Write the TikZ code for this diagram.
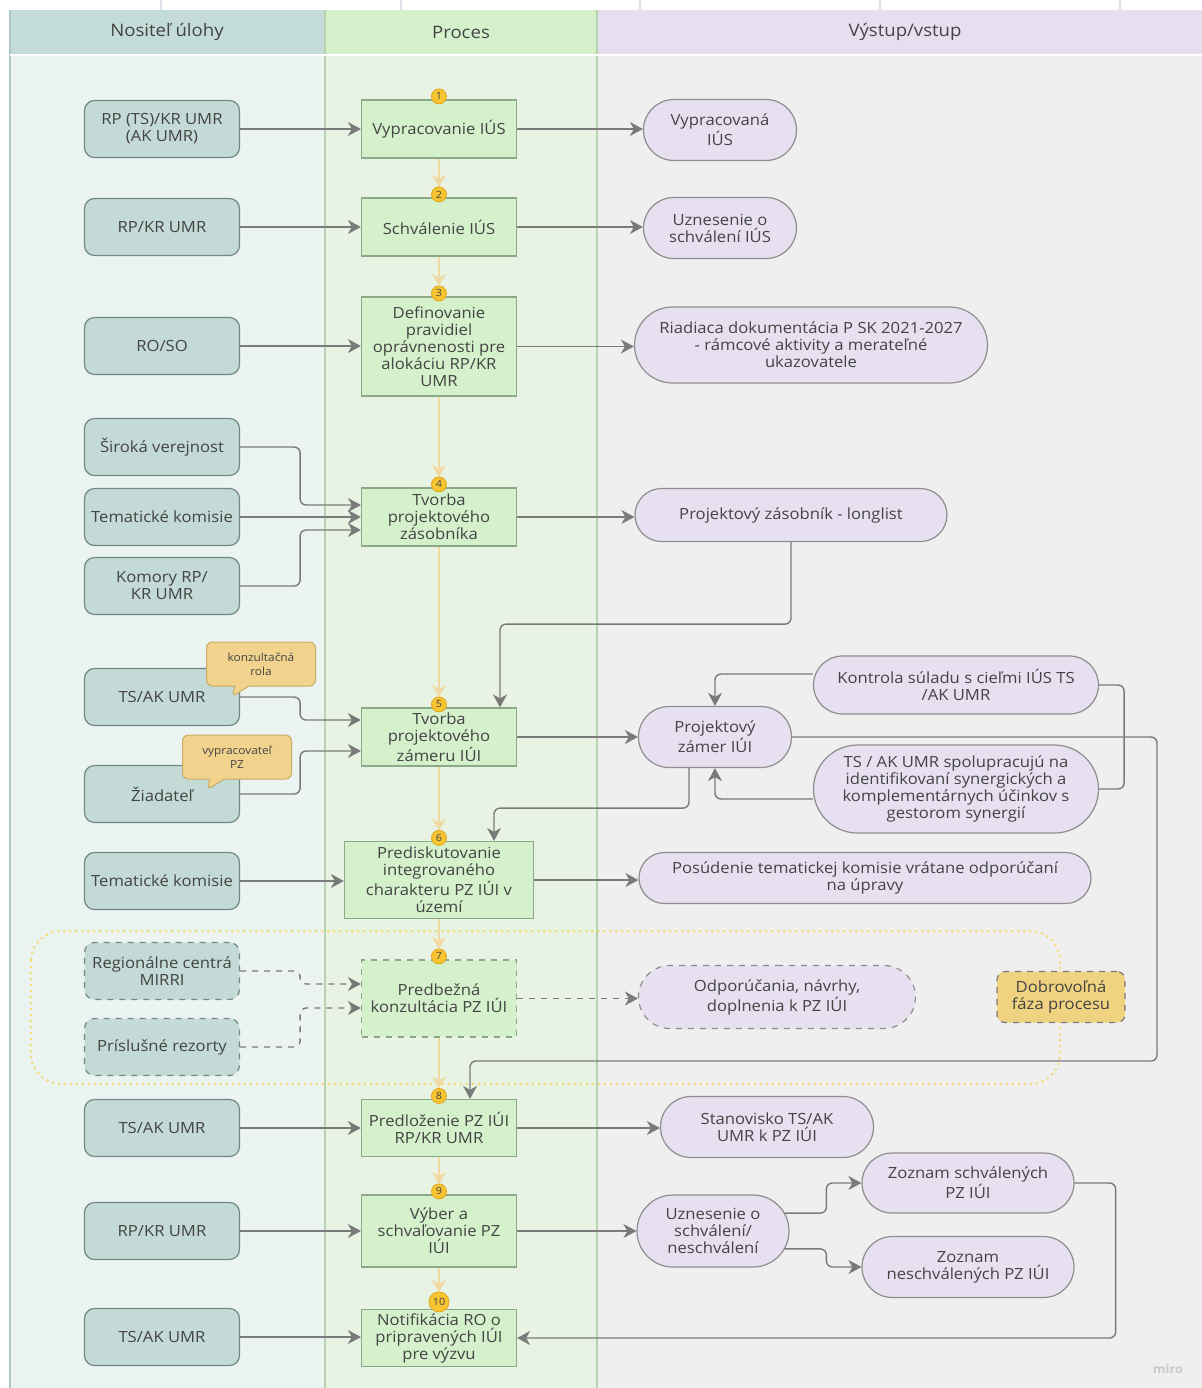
\documentclass[tikz,border=0pt]{standalone}
\usepackage{fontspec}
\setmainfont[FakeStretch=1.08]{Open Sans}
\usetikzlibrary{arrows.meta,shapes.misc,shapes.callouts}
\definecolor{lhead}{HTML}{C4DCD7}
\definecolor{lbody}{HTML}{EBF4F1}
\definecolor{mhead}{HTML}{D4F1CC}
\definecolor{mbody}{HTML}{E8F3E3}
\definecolor{rhead}{HTML}{E6DFF0}
\definecolor{rbody}{HTML}{EFEFEF}
\definecolor{lfill}{HTML}{C3DAD6}
\definecolor{lbord}{HTML}{728886}
\definecolor{pfill}{HTML}{D5F1CC}
\definecolor{pbord}{HTML}{8BA888}
\definecolor{ofill}{HTML}{E7E0F0}
\definecolor{obord}{HTML}{8E8E8E}
\definecolor{cgray}{HTML}{7A7A7A}
\definecolor{flowc}{HTML}{F0D9A2}
\definecolor{bfill}{HTML}{F7C531}
\definecolor{bbord}{HTML}{E2A61A}
\definecolor{callf}{HTML}{F1D38E}
\definecolor{callb}{HTML}{C9AA66}
\definecolor{dobf}{HTML}{F0D380}
\definecolor{regc}{HTML}{F2DC7C}
\definecolor{txt}{HTML}{444444}
\definecolor{laneA}{HTML}{B7D3AE}
\definecolor{laneL}{HTML}{ADC9C3}
\definecolor{tickc}{HTML}{DCE2EA}
\definecolor{wm}{HTML}{C9C9C9}
\newcommand\fsA{\fontsize{7.7}{8.5}\selectfont}
\newcommand\fsH{\fontsize{8.6}{9.5}\selectfont}
\newcommand\fsS{\fontsize{5.5}{7}\selectfont}
\newcommand\fsB{\fontsize{5}{5}\selectfont}
\begin{document}
\begin{tikzpicture}[x=0.5pt,y=-0.5pt,
  every node/.style={text=txt, font=\fsA, align=center, inner sep=1pt},
  hdr/.style={font=\fsH},
  lnode/.style={draw=lbord, fill=lfill, rounded corners=5pt, minimum width=77.5pt, minimum height=28.5pt, line width=0.6pt},
  pnode/.style={draw=pbord, fill=pfill, minimum width=77.5pt, line width=0.6pt},
  onode/.style={draw=obord, fill=ofill, rounded rectangle, line width=0.6pt},
  conn/.style={draw=cgray, line width=0.7pt, rounded corners=3pt, -{Stealth[length=6.5pt,width=7pt,inset=2pt]}},
  plain/.style={draw=cgray, line width=0.7pt, rounded corners=3pt},
  flow/.style={draw=flowc, line width=0.7pt, -{Stealth[length=6pt,width=7pt,inset=2pt]}},
  badge/.style={circle, fill=bfill, draw=bbord, line width=0.4pt, minimum size=7.5pt, inner sep=0pt, font=\fsB},
  callout/.style={rectangle callout, fill=callf, draw=callb, line width=0.5pt, rounded corners=3pt, minimum width=54.5pt, minimum height=22pt, font=\fsS, inner sep=1pt}
]
\useasboundingbox (0,0) rectangle (1202,1388);
\fill[white] (0,0) rectangle (1202,1388);
% ruler ticks
\foreach \tx in {161,401,640,880,1120} \draw[tickc, line width=0.6pt] (\tx,0) -- (\tx,10);
% lanes
\fill[lhead] (10,10) rectangle (325,55);
\fill[mhead] (325,10) rectangle (597,55);
\fill[rhead] (597,10) rectangle (1202,55);
\fill[lbody] (10,55) rectangle (325,1388);
\fill[mbody] (325,55) rectangle (597,1388);
\fill[rbody] (597,55) rectangle (1202,1388);
\draw[laneL, line width=0.6pt] (10,10) -- (10,1388);
\draw[laneA, line width=0.8pt] (325,10) -- (325,1388);
\draw[laneA, line width=0.8pt] (597,10) -- (597,1388);
\draw[white, line width=0.8pt] (10,55) -- (1202,55);
\node[hdr] (h1) at (167,32) {Nositeľ úlohy};
\node[hdr] (h2) at (461,32) {Proces};
\node[hdr] (h3) at (905,32) {Výstup/vstup};
% voluntary region
\draw[regc, line width=1.5pt, line cap=round, dash pattern=on 0pt off 3pt, rounded corners=15pt] (31,931) rectangle (1060,1084);

% left nodes
\node[lnode] (l1) at (162,129) {RP (TS)/KR UMR\\(AK UMR)};
\node[lnode] (l2) at (162,227) {RP/KR UMR};
\node[lnode] (l3) at (162,346) {RO/SO};
\node[lnode] (l4) at (162,447) {Široká verejnost};
\node[lnode] (l5) at (162,517) {Tematické komisie};
\node[lnode] (l6) at (162,586) {Komory RP/\\KR UMR};
\node[lnode] (l7) at (162,697) {TS/AK UMR};
\node[lnode] (l8) at (162,794) {Žiadateľ};
\node[lnode] (l9) at (162,881) {Tematické komisie};
\node[lnode, dashed] (l10) at (162,971) {Regionálne centrá\\MIRRI};
\node[lnode, dashed] (l11) at (162,1047) {Príslušné rezorty};
\node[lnode] (l12) at (162,1128) {TS/AK UMR};
\node[lnode] (l13) at (162,1231) {RP/KR UMR};
\node[lnode] (l14) at (162,1337) {TS/AK UMR};

% callouts
\node[callout, callout absolute pointer={(232,697)}] (c1) at (261,664) {konzultačná\\rola};
\node[callout, callout absolute pointer={(207,790)}] (c2) at (237,757) {vypracovateľ\\PZ};

% process nodes
\node[pnode, minimum height=29pt] (p1) at (439,129) {Vypracovanie IÚS};
\node[pnode, minimum height=29pt] (p2) at (439,227) {Schválenie IÚS};
\node[pnode, minimum height=49.5pt] (p3) at (439,346.5) {Definovanie\\pravidiel\\oprávnenosti pre\\alokáciu RP/KR\\UMR};
\node[pnode, minimum height=29pt] (p4) at (439,517) {Tvorba\\projektového\\zásobníka};
\node[pnode, minimum height=29pt] (p5) at (439,737) {Tvorba\\projektového\\zámeru IÚI};
\node[pnode, minimum height=38.5pt, minimum width=94.5pt] (p6) at (439,880) {Prediskutovanie\\integrovaného\\charakteru PZ IÚI v\\území};
\node[pnode, dashed, minimum height=38.5pt] (p7) at (439,998.5) {Predbežná\\konzultácia PZ IÚI};
\node[pnode, minimum height=28.5pt] (p8) at (439,1128) {Predloženie PZ IÚI\\RP/KR UMR};
\node[pnode, minimum height=36pt] (p9) at (439,1231) {Výber a\\schvaľovanie PZ\\IÚI};
\node[pnode, minimum height=28.5pt] (p10) at (439,1338) {Notifikácia RO o\\pripravených IÚI\\pre výzvu};

% output nodes
\node[onode, minimum width=78.5pt, minimum height=30.5pt] (o1) at (720,130) {Vypracovaná\\IÚS};
\node[onode, minimum width=78.5pt, minimum height=30.5pt] (o2) at (720,228) {Uznesenie o\\schválení IÚS};
\node[onode, minimum width=178.5pt, minimum height=38pt] (o3) at (811,345) {Riadiaca dokumentácia P SK 2021-2027\\- rámcové aktivity a merateľné\\ukazovatele};
\node[onode, minimum width=158pt, minimum height=26.5pt] (o4) at (791,515) {Projektový zásobník - longlist};
\node[onode, minimum width=144.5pt, minimum height=29pt] (o5) at (956,685) {Kontrola súladu s cieľmi IÚS TS\\/AK UMR};
\node[onode, minimum width=78.5pt, minimum height=30.5pt] (o6) at (715,737) {Projektový\\zámer IÚI};
\node[onode, minimum width=144.5pt, minimum height=44pt] (o7) at (956,789) {TS / AK UMR spolupracujú na\\identifikovaní synergických a\\komplementárnych účinkov s\\gestorom synergií};
\node[onode, minimum width=228pt, minimum height=25.5pt] (o8) at (865,878) {Posúdenie tematickej komisie vrátane odporúčaní\\na úpravy};
\node[onode, dashed, minimum width=140.5pt, minimum height=31.5pt] (o9) at (777,997) {Odporúčania, návrhy,\\doplnenia k PZ IÚI};
\node[draw=cgray, dashed, fill=dobf, rounded corners=4pt, line width=0.6pt, minimum width=64pt, minimum height=25.5pt] (dob) at (1061,997) {Dobrovoľná\\fáza procesu};
\node[onode, minimum width=108.5pt, minimum height=30.5pt] (o10) at (767,1127) {Stanovisko TS/AK\\UMR k PZ IÚI};
\node[onode, minimum width=108pt, minimum height=30pt] (o11) at (968,1183) {Zoznam schválených\\PZ IÚI};
\node[onode, minimum width=78pt, minimum height=36pt] (o12) at (713,1231) {Uznesenie o\\schválení/\\neschválení};
\node[onode, minimum width=108pt, minimum height=30.5pt] (o13) at (968,1267) {Zoznam\\neschválených PZ IÚI};

% badges and flow arrows
\foreach \i in {1,...,9} \coordinate (b\i) at ([yshift=1.5pt]p\i.north);
\coordinate (b10) at ([yshift=3.5pt]p10.north);
\foreach \a/\b in {1/2,2/3,3/4,4/5,5/6,6/7,7/8,8/9}
  \draw[flow] (p\a.south) -- ([yshift=3.75pt]b\b);
\draw[flow] (p9.south) -- ([yshift=5pt]b10);
\foreach \i in {1,...,9} \node[badge] (n\i) at (b\i) {\i};
\node[badge, minimum size=10pt] (n10) at (b10) {10};

% left -> process
\draw[conn] (l1.east) -- (l1.east -| p1.west);
\draw[conn] (l2.east) -- (l2.east -| p2.west);
\draw[conn] (l3.east) -- (l3.east -| p3.west);
\draw[conn] (l4.east) -- ++(60,0) |- ([yshift=6pt]p4.west);
\draw[conn] (l5.east) -- (l5.east -| p4.west);
\draw[conn] (l6.east) -- ++(60,0) |- ([yshift=-6.5pt]p4.west);
\draw[conn] (l7.east) -- ++(60,0) |- ([yshift=8.5pt]p5.west);
\draw[conn] (l8.east) -- ++(60,0) |- ([yshift=-7pt]p5.west);
\draw[conn] (l9.east) -- (l9.east -| p6.west);
\draw[conn, dashed] (l10.east) -- ++(60,0) |- ([yshift=7.25pt]p7.west);
\draw[conn, dashed] (l11.east) -- ++(60,0) |- ([yshift=-4.75pt]p7.west);
\draw[conn] (l12.east) -- (l12.east -| p8.west);
\draw[conn] (l13.east) -- (l13.east -| p9.west);
\draw[conn] (l14.east) -- (l14.east -| p10.west);

% process -> output
\draw[conn] (p1.east) -- (p1.east -| o1.west);
\draw[conn] (p2.east) -- (p2.east -| o2.west);
\draw[conn] (p3.east) -- (p3.east -| o3.west);
\draw[conn] (p4.east) -- (p4.east -| o4.west);
\draw[conn] (p5.east) -- (p5.east -| o6.west);
\draw[conn] (p6.east) -- (p6.east -| o8.west);
\draw[conn, dashed] (p7.east) -- (p7.east -| o9.west);
\draw[conn] (p8.east) -- (p8.east -| o10.west);
\draw[conn] (p9.east) -- (p9.east -| o12.west);

% feedback / other connectors
\draw[conn] (o4.south) -- ++(0,82) -| ([xshift=30.5pt]p5.north);
\draw[conn] ([xshift=-13pt]o6.south) -- ++(0,40) -| ([xshift=27.5pt]p6.north);
\draw[conn] (o6.east) -| (1157,1061) -| ([xshift=15.5pt]p8.north);
\draw[conn] ([yshift=5.5pt]o5.west) -| (o6.north);
\draw[conn] ([yshift=-5pt]o7.west) -| (o6.south);
\draw[plain] (o5.east) -- ++(25,0) |- (o7.east);
\draw[conn] (o12.14) -| ([xshift=-17.5pt]o11.west) -- (o11.west);
\draw[conn] (o12.-14) -| ([xshift=-17.5pt]o13.west) -- (o13.west);
\draw[conn] (o11.east) -- ++(41,0) |- (p10.east);

% watermark
\node[text=wm, font=\fontsize{6}{6}\selectfont\bfseries] (wmk) at (1168,1369) {miro};
\end{tikzpicture}
\end{document}
